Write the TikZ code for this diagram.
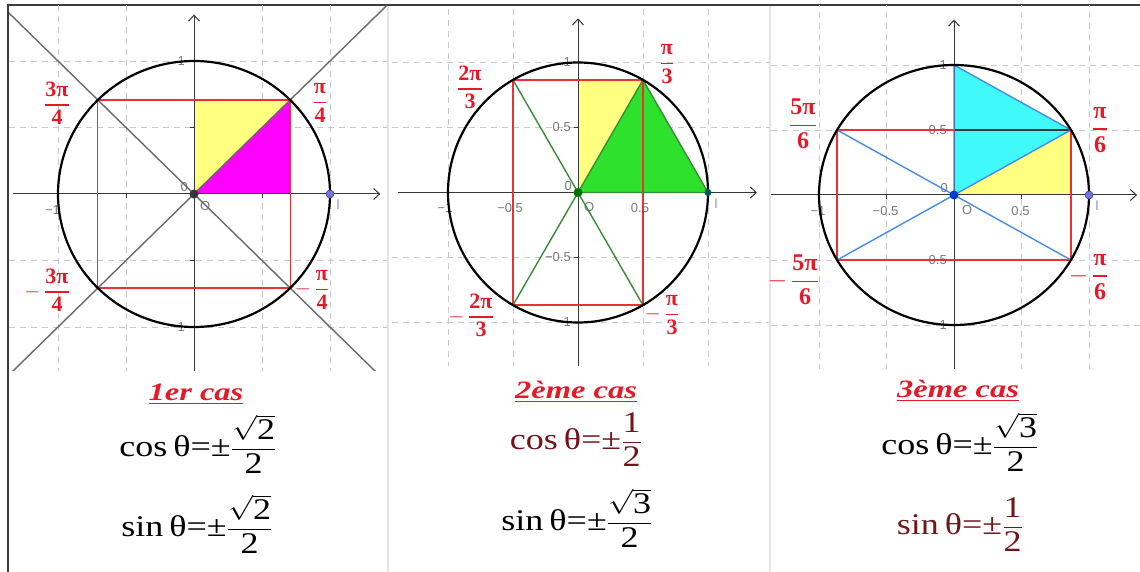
\documentclass[tikz,border=0pt]{standalone}
\usepackage{amsmath}
\usepackage{graphicx}
\usepackage{fontspec}
\setmainfont{Liberation Serif}
\setsansfont{Liberation Sans}
\usetikzlibrary{arrows.meta}

\definecolor{angred}{RGB}{230,25,40}
\definecolor{formred}{RGB}{115,20,25}
\definecolor{boxred}{RGB}{235,50,50}
\definecolor{gridgray}{RGB}{200,200,200}
\definecolor{axisgray}{RGB}{55,55,55}
\definecolor{labgray}{RGB}{120,120,120}
\definecolor{diaggray}{RGB}{105,105,105}
\definecolor{framegray}{RGB}{60,60,60}
\definecolor{sepgray}{RGB}{228,228,228}
\definecolor{fillyellow}{RGB}{255,255,128}
\definecolor{fillmagenta}{RGB}{255,0,255}
\definecolor{fillgreen}{RGB}{45,225,45}
\definecolor{linegreen}{RGB}{55,140,55}
\definecolor{fillcyan}{RGB}{64,250,250}
\definecolor{lineblue}{RGB}{70,140,230}
\definecolor{unitblue}{RGB}{115,115,225}
\definecolor{ilabel}{RGB}{150,150,240}

\newcommand{\angfrac}[2]{$\genfrac{}{}{1.4pt}{0}{\textbf{#1}}{\textbf{#2}}$}
\newcommand{\negang}[1]{\llap{$-$\,}#1}
\newcommand{\stretchx}[2]{\scalebox{#1}[1]{#2}}
\newcommand{\pmfrac}[2]{$\dfrac{\text{#1}}{\text{#2}}$}

\begin{document}
\begin{tikzpicture}[x=1pt,y=-1pt,
  gridline/.style={draw=gridgray, dash pattern=on 6pt off 5pt, line width=0.8pt},
  axisline/.style={draw=axisgray, line width=1pt, -{Straight Barb[length=6pt,width=11pt]}},
  tickmark/.style={draw=axisgray, line width=0.8pt},
  unitcircle/.style={draw=black, line width=2.2pt},
  redbox/.style={draw=boxred, line width=1.3pt},
  diagline/.style={draw=diaggray, line width=1.4pt},
  ticklab/.style={text=labgray, font=\fontsize{13}{13}\sffamily\selectfont, inner sep=0pt},
  ptlab/.style={text=ilabel, font=\fontsize{14}{14}\sffamily\selectfont, inner sep=0pt},
  anglab/.style={text=angred, font=\fontsize{22}{24}\selectfont\bfseries, inner sep=0pt},
  casetitle/.style={text=angred, font=\fontsize{25}{28}\selectfont\bfseries\itshape, anchor=base, inner sep=0pt},
  formula/.style={font=\fontsize{30}{32}\selectfont, anchor=base, inner sep=0pt}]
\useasboundingbox (0,0) rectangle (1140,572);

% Frame and separators
\draw[sepgray, line width=2pt] (388,5) -- (388,572);
\draw[sepgray, line width=2pt] (770,5) -- (770,572);
\draw[framegray, line width=1.8pt] (8,572) -- (8,5) -- (1140,5);

% ---------- 1er cas ----------
\begin{scope}
\clip (9,6) rectangle (387,370);
\begin{scope}[shift={(194,194)}, x=136pt, y=133pt]
\coordinate (O1) at (0,0);
\coordinate (A1) at (45:1);
\coordinate (B1) at (135:1);
\coordinate (C1) at (225:1);
\coordinate (D1) at (315:1);
\coordinate (I1) at (1,0);

% Draw grid
\foreach \g in {-1,-0.5,0.5,1} {
  \draw[gridline] (\g,-1.6) -- (\g,1.6);
  \draw[gridline] (-1.6,\g) -- (1.6,\g);
}

% Fill triangles
\fill[fillyellow] (O1) -- (0,0.7071) -- (A1) -- cycle;
\fill[fillmagenta] (O1) -- (A1) -- (0.7071,0) -- cycle;

% Draw axes
\draw[axisline] (-1.33,0) -- (1.37,0);
\draw[axisline] (0,-1.45) -- (0,1.35);
\foreach \g in {-1,-0.5,0.5,1} {
  \draw[tickmark] (\g,0) -- ++(0,-4pt);
  \draw[tickmark] (0,\g) -- ++(-4pt,0);
}
\node[ticklab, anchor=north] (x1m1) at ([yshift=-11pt]-1.04,0) {−1};
\node[ticklab, anchor=east] (y1p1) at ([xshift=-9pt]0,1) {1};
\node[ticklab, anchor=east] (y1m1) at ([xshift=-9pt]0,-1) {−1};
\node[ticklab, anchor=south east] (z1) at ([xshift=-6pt,yshift=2pt]O1) {0};
\node[ticklab, anchor=north west] (o1) at ([xshift=6pt,yshift=-7pt]O1) {O};
\node[ptlab, anchor=north west] (i1) at ([xshift=6pt,yshift=-6pt]I1) {I};

% Draw square and bisectors
\draw[redbox] (A1) -- (B1) -- (C1) -- (D1) -- cycle;
\draw[diagline] (-1.6,-1.6) -- (1.6,1.6);
\draw[diagline] (-1.6,1.6) -- (1.6,-1.6);

% Draw circle and points
\draw[unitcircle] (O1) circle [radius=1];
\fill[axisgray] (O1) circle (4.5pt);
\filldraw[fill=unitblue, draw=unitblue!60!black, line width=0.6pt] (I1) circle (4pt);
\end{scope}
\end{scope}

% Label angles
\node[anglab] (l1a) at (320,103) {\angfrac{π}{4}};
\node[anglab] (l1b) at (57,103) {\angfrac{3π}{4}};
\node[anglab] (l1c) at (57,290) {\negang{\angfrac{3π}{4}}};
\node[anglab] (l1d) at (322,290) {\negang{\angfrac{π}{4}}};

% ---------- 2eme cas ----------
\begin{scope}
\clip (390,6) rectangle (769,365);
\begin{scope}[shift={(578,192.5)}, x=130pt, y=130pt]
\coordinate (O2) at (0,0);
\coordinate (A2) at (60:1);
\coordinate (B2) at (120:1);
\coordinate (C2) at (240:1);
\coordinate (D2) at (300:1);
\coordinate (I2) at (1,0);

% Draw grid
\foreach \g in {-1,-0.5,0.5,1} {
  \draw[gridline] (\g,-1.6) -- (\g,1.6);
  \draw[gridline] (-1.6,\g) -- (1.6,\g);
}

% Fill triangles
\fill[fillyellow] (O2) -- (0,0.866) -- (A2) -- cycle;
\fill[fillgreen] (O2) -- (A2) -- (I2) -- cycle;

% Draw axes
\draw[axisline] (-1.385,0) -- (1.377,0);
\draw[axisline] (0,-1.45) -- (0,1.34);
\foreach \g in {-1,-0.5,0.5,1} {
  \draw[tickmark] (\g,0) -- ++(0,-4pt);
  \draw[tickmark] (0,\g) -- ++(-4pt,0);
}
\foreach \v/\t in {-1/−1,-0.5/−0.5,0.5/0.5}
  \node[ticklab, anchor=north] at ([xshift=-3pt,yshift=-11pt]\v,0) {\t};
\foreach \v/\t in {1/1,0.5/0.5,-0.5/−0.5,-1/−1}
  \node[ticklab, anchor=east] at ([xshift=-7pt]0,\v) {\t};
\node[ticklab, anchor=south east] (z2) at ([xshift=-6pt,yshift=2pt]O2) {0};
\node[ticklab, anchor=north west] (o2) at ([xshift=6pt,yshift=-10pt]O2) {O};
\node[ptlab, anchor=north west] (i2) at ([xshift=6pt,yshift=-6pt]I2) {I};

% Draw rectangle and chords
\draw[redbox] (A2) -- (B2) -- (C2) -- (D2) -- cycle;
\draw[linegreen, line width=1.4pt] (B2) -- (D2);
\draw[linegreen, line width=1.4pt] (A2) -- (C2);
\draw[linegreen, line width=1.4pt] (A2) -- (I2) -- (O2);

% Draw circle and points
\draw[unitcircle] (O2) circle [radius=1];
\fill[green!45!black] (O2) circle (4.5pt);
\fill[teal!70!black] (I2) circle (3.5pt);
\end{scope}
\end{scope}

% Label angles
\node[anglab] (l2a) at (667,64) {\angfrac{π}{3}};
\node[anglab] (l2b) at (470,87) {\angfrac{2π}{3}};
\node[anglab] (l2c) at (481,315) {\negang{\angfrac{2π}{3}}};
\node[anglab] (l2d) at (672,315) {\negang{\angfrac{π}{3}}};

% ---------- 3eme cas ----------
\begin{scope}
\clip (771,6) rectangle (1140,368);
\begin{scope}[shift={(954,195)}, x=135pt, y=130pt]
\coordinate (O3) at (0,0);
\coordinate (A3) at (30:1);
\coordinate (B3) at (150:1);
\coordinate (C3) at (210:1);
\coordinate (D3) at (330:1);
\coordinate (T3) at (0,1);
\coordinate (I3) at (1,0);

% Draw grid
\foreach \g in {-1,-0.5,0.5,1} {
  \draw[gridline] (\g,-1.6) -- (\g,1.6);
  \draw[gridline] (-1.6,\g) -- (1.6,\g);
}

% Fill triangles
\fill[fillcyan] (O3) -- (T3) -- (A3) -- cycle;
\fill[fillyellow] (O3) -- (A3) -- (0.866,0) -- cycle;

% Draw axes
\draw[axisline] (-1.4,0) -- (1.356,0);
\draw[axisline] (0,-1.45) -- (0,1.35);
\foreach \g in {-1,-0.5,0.5,1} {
  \draw[tickmark] (\g,0) -- ++(0,-4pt);
  \draw[tickmark] (0,\g) -- ++(-4pt,0);
}
\foreach \v/\t in {-1/−1,-0.5/−0.5,0.5/0.5}
  \node[ticklab, anchor=north] at ([xshift=-1pt,yshift=-11pt]\v,0) {\t};
\foreach \v/\t in {1/1,0.5/0.5,-0.5/−0.5,-1/−1}
  \node[ticklab, anchor=east] at ([xshift=-7pt]0,\v) {\t};
\node[ticklab, anchor=south east] (z3) at ([xshift=-6pt,yshift=2pt]O3) {0};
\node[ticklab, anchor=north west] (o3) at ([xshift=8pt,yshift=-10pt]O3) {O};
\node[ptlab, anchor=north west] (i3) at ([xshift=6pt,yshift=-6pt]I3) {I};

% Draw rectangle and chords
\draw[redbox] (A3) -- (B3) -- (C3) -- (D3) -- cycle;
\draw[axisgray, line width=1.4pt] (0,0.5) -- (A3);
\draw[lineblue, line width=1.4pt] (B3) -- (D3);
\draw[lineblue, line width=1.4pt] (C3) -- (A3);
\draw[lineblue, line width=1.4pt] (O3) -- (T3) -- (A3);

% Draw circle and points
\draw[unitcircle] (O3) circle [radius=1];
\fill[blue!70!cyan!80!black] (O3) circle (4.5pt);
\filldraw[fill=unitblue, draw=unitblue!60!black, line width=0.6pt] (I3) circle (4pt);
\end{scope}
\end{scope}

% Label angles
\node[anglab, font=\fontsize{24}{26}\selectfont\bfseries] (l3a) at (1100,130) {\angfrac{π}{6}};
\node[anglab, font=\fontsize{24}{26}\selectfont\bfseries] (l3b) at (803,124) {\angfrac{5π}{6}};
\node[anglab, font=\fontsize{24}{26}\selectfont\bfseries] (l3c) at (805,280) {\negang{\angfrac{5π}{6}}};
\node[anglab, font=\fontsize{24}{26}\selectfont\bfseries] (l3d) at (1100,277) {\negang{\angfrac{π}{6}}};

% ---------- Formulas ----------
\node[casetitle] (cas1) at (196,400) {\stretchx{1.3}{\underline{1er cas}}};
\node[formula] (cos1) at (198,456) {\stretchx{1.2}{cos\,θ=±\pmfrac{$\sqrt{\text{2}}$}{2}}};
\node[formula] (sin1) at (197,536) {\stretchx{1.2}{sin\,θ=±\pmfrac{$\sqrt{\text{2}}$}{2}}};

\node[casetitle] (cas2) at (576,398) {\stretchx{1.3}{\underline{2ème cas}}};
\node[formula, text=formred] (cos2) at (576,449) {\stretchx{1.2}{cos\,θ=±\pmfrac{1}{2}}};
\node[formula] (sin2) at (577,530) {\stretchx{1.2}{sin\,θ=±\pmfrac{$\sqrt{\text{3}}$}{2}}};

\node[casetitle] (cas3) at (958,397) {\stretchx{1.3}{\underline{3ème cas}}};
\node[formula] (cos3) at (960,454) {\stretchx{1.2}{cos\,θ=±\pmfrac{$\sqrt{\text{3}}$}{2}}};
\node[formula, text=formred] (sin3) at (960,534) {\stretchx{1.2}{sin\,θ=±\pmfrac{1}{2}}};
\end{tikzpicture}
\end{document}
